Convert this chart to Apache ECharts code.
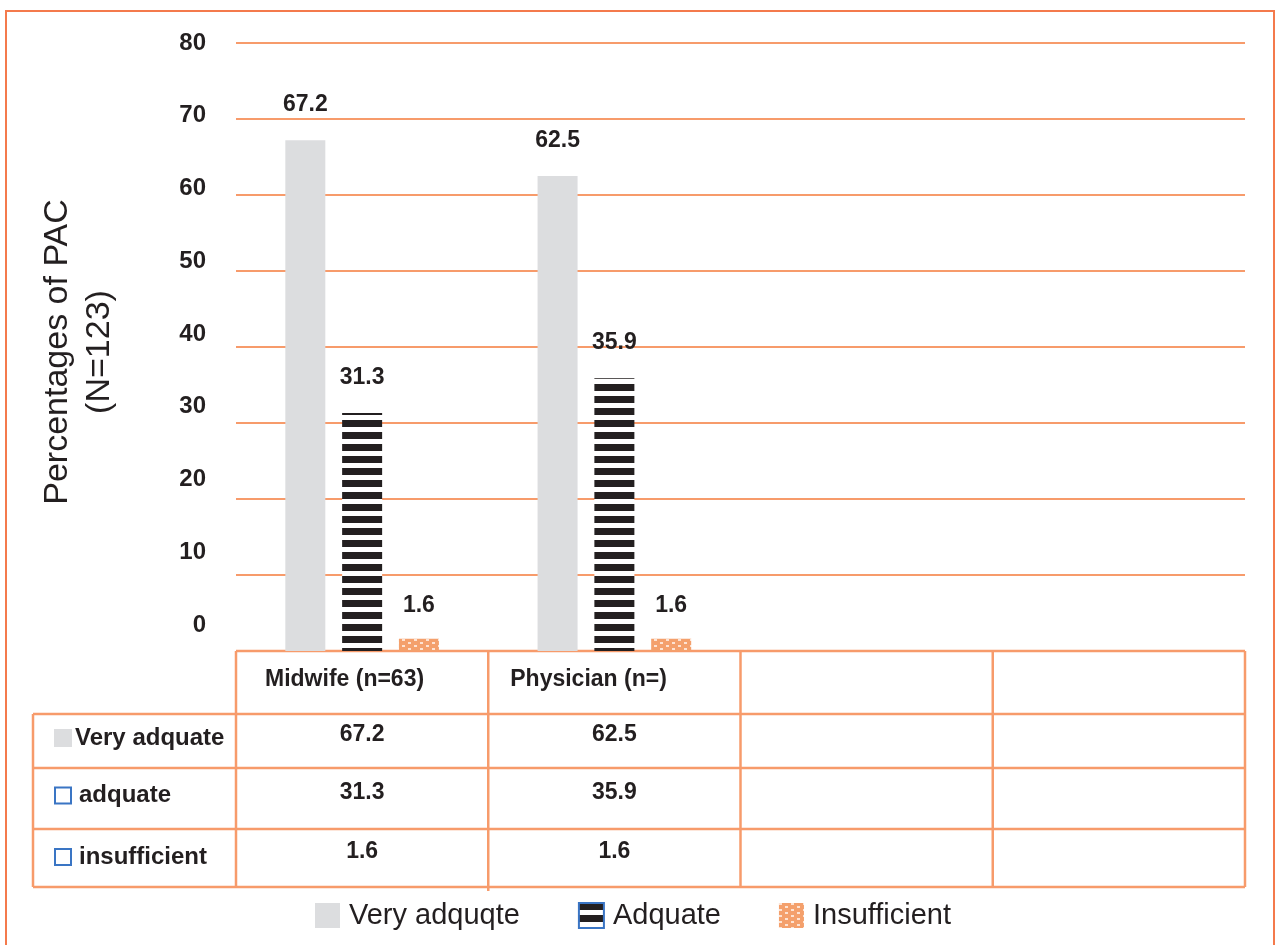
<!DOCTYPE html>
<html>
<head>
<meta charset="utf-8">
<script src="https://cdn.jsdelivr.net/npm/echarts@6/dist/echarts.min.js"></script>
<style>html,body{margin:0;padding:0;background:#fff;}#main{width:1277px;height:945px;}</style>
</head>
<body>
<div id="main"></div>
<script>
// ---- data ----
var categories = ['Midwife (n=63)', 'Physician (n=)', '', ''];
var veryAdequate = [67.2, 62.5, null, null];
var adequate = [31.3, 35.9, null, null];
var insufficient = [1.6, 1.6, null, null];
var legendNames = ['Very adquqte', 'Adquate', 'Insufficient'];
var rowLabels = ['Very adquate', 'adquate', 'insufficient'];
var yTicks = [0, 10, 20, 30, 40, 50, 60, 70, 80];
var yAxisTitle = 'Percentages of PAC\n(N=123)';

// ---- styles ----
var ORANGE = '#f79b6b';
var DARK = '#231f20';
var GREY = '#dcdddf';
var FONT_C = '"Liberation Sans Narrow", "Arial Narrow", "Liberation Sans", sans-serif';
var FONT = '"Liberation Sans", Arial, sans-serif';

function stripePattern() {
  var c = document.createElement('canvas');
  c.width = 40; c.height = 12;
  var g = c.getContext('2d');
  g.fillStyle = '#ffffff'; g.fillRect(0, 0, 40, 12);
  g.fillStyle = DARK; g.fillRect(0, 0, 40, 7);
  return { image: c, repeat: 'repeat' };
}
function brickPattern() {
  var c = document.createElement('canvas');
  c.width = 12; c.height = 6;
  var g = c.getContext('2d');
  g.fillStyle = '#f4a06c'; g.fillRect(0, 0, 12, 6);
  g.fillStyle = '#fde3d3';
  g.fillRect(0, 0, 3, 2); g.fillRect(6, 3, 3, 2);
  return { image: c, repeat: 'repeat' };
}

var W = 1277, H = 945;
var gridLeft = 236, gridRight = 32, gridTop = 43, gridBottom = 294;
var chart = echarts.init(document.getElementById('main'), null, { renderer: 'canvas' });

var labelStyle = { show: true, position: 'top', distance: 24, fontFamily: FONT_C, fontWeight: 'bold', fontSize: 23, color: DARK };

// table geometry
var tableRight = W - gridRight;
var catW = (tableRight - gridLeft) / categories.length;
var rowY = [651, 714, 768, 829, 887];
var graphics = [];
// frame
graphics.push({ type: 'rect', shape: { x: 6, y: 11, width: 1268, height: 1000 }, style: { fill: null, stroke: '#f47a4c', lineWidth: 2 }, silent: true });
// horizontal lines
graphics.push({ type: 'line', shape: { x1: gridLeft, y1: rowY[0], x2: tableRight, y2: rowY[0] }, style: { stroke: ORANGE, lineWidth: 2.5 } });
for (var r = 1; r < rowY.length; r++) {
  graphics.push({ type: 'line', shape: { x1: 33, y1: rowY[r], x2: tableRight, y2: rowY[r] }, style: { stroke: ORANGE, lineWidth: 2.5 } });
}
// vertical lines
graphics.push({ type: 'line', shape: { x1: 33, y1: rowY[1], x2: 33, y2: rowY[4] }, style: { stroke: ORANGE, lineWidth: 2.5 } });
for (var c = 0; c <= categories.length; c++) {
  var x = gridLeft + c * catW;
  graphics.push({ type: 'line', shape: { x1: x, y1: rowY[0], x2: x, y2: rowY[4] + (c === 1 ? 4 : 0) }, style: { stroke: ORANGE, lineWidth: 2.5 } });
}
// header texts
categories.forEach(function (name, i) {
  if (!name) return;
  graphics.push({ type: 'text', x: gridLeft + i * catW + (i === 0 ? 29 : 22), y: (rowY[0] + rowY[1]) / 2 - 3,
    style: { text: name, fontFamily: FONT_C, fontWeight: 'bold', fontSize: 23, fill: DARK, align: 'left', verticalAlign: 'middle' } });
});
// row labels and values
var seriesVals = [veryAdequate, adequate, insufficient];
rowLabels.forEach(function (lab, r) {
  var cy = (rowY[r + 1] + rowY[r + 2]) / 2 - 3;
  if (r === 0) {
    graphics.push({ type: 'rect', shape: { x: 54, y: cy - 9, width: 18, height: 18 }, style: { fill: GREY } });
  } else {
    graphics.push({ type: 'rect', shape: { x: 55, y: cy - 8 + (r === 2 ? 2 : 0), width: 16, height: 16 }, style: { fill: '#fff', stroke: '#3a75c4', lineWidth: 2 } });
  }
  graphics.push({ type: 'text', x: r === 0 ? 75 : 79, y: cy + (r === 2 ? 2 : 0), style: { text: lab, fontFamily: FONT_C, fontWeight: 'bold', fontSize: 24, fill: DARK, align: 'left', verticalAlign: 'middle' } });
  seriesVals[r].forEach(function (v, i) {
    if (v == null) return;
    graphics.push({ type: 'text', x: gridLeft + (i + 0.5) * catW, y: cy - 3, style: { text: String(v), fontFamily: FONT_C, fontWeight: 'bold', fontSize: 23, fill: DARK, align: 'center', verticalAlign: 'middle' } });
  });
});
// y axis title
graphics.push({ type: 'text', x: 79, y: 352, rotation: Math.PI / 2,
  style: { text: yAxisTitle, fontFamily: FONT, fontSize: 34, fill: DARK, align: 'center', verticalAlign: 'middle', lineHeight: 42 } });

var option = {
  backgroundColor: '#fff',
  animation: false,
  legend: {
    bottom: 10, left: 310, itemWidth: 25, itemHeight: 25, itemGap: 58, icon: 'rect',
    textStyle: { fontFamily: FONT, fontSize: 29, color: DARK, padding: [0, 0, 0, 4] },
    data: [
      { name: legendNames[0] },
      { name: legendNames[1], itemStyle: { borderColor: '#3a75c4', borderWidth: 2 } },
      { name: legendNames[2] }
    ]
  },
  grid: [
    { left: gridLeft, right: gridRight, top: gridTop, bottom: gridBottom },
    { left: gridLeft, right: gridRight, top: gridTop, bottom: 320 }
  ],
  xAxis: [
    { type: 'category', gridIndex: 0, data: categories, axisLabel: { show: false }, axisTick: { show: false }, axisLine: { show: false } },
    { type: 'category', gridIndex: 1, data: categories, show: false }
  ],
  yAxis: [
    { type: 'value', gridIndex: 0, min: 0, max: 80, interval: 10, axisLabel: { show: false }, axisLine: { show: false }, axisTick: { show: false },
      splitLine: { lineStyle: { color: ORANGE, width: 2 } } },
    { type: 'value', gridIndex: 1, min: yTicks[0], max: yTicks[yTicks.length - 1], interval: 10, axisLine: { show: false }, axisTick: { show: false }, splitLine: { show: false },
      axisLabel: { margin: 30, fontFamily: FONT_C, fontWeight: 'bold', fontSize: 24, color: DARK } }
  ],
  series: [
    { name: legendNames[0], type: 'bar', data: veryAdequate, barWidth: 40, barGap: '42%', itemStyle: { color: GREY }, label: labelStyle },
    { name: legendNames[1], type: 'bar', data: adequate, barWidth: 40, barGap: '42%', itemStyle: { color: stripePattern() }, label: labelStyle },
    { name: legendNames[2], type: 'bar', data: insufficient, barWidth: 40, barGap: '42%', itemStyle: { color: brickPattern() }, label: Object.assign({}, labelStyle, { position: 'top', distance: 22 }) }
  ],
  graphic: graphics
};
chart.setOption(option);
</script>
</body>
</html>
